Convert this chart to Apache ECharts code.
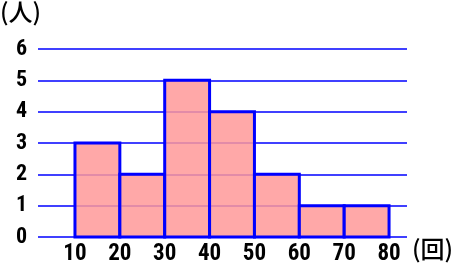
<!DOCTYPE html>
<html><head><meta charset="utf-8">
<script src="https://cdn.jsdelivr.net/npm/echarts@6/dist/echarts.min.js"></script>
<style>html,body{margin:0;padding:0;background:#fff}#c{width:456px;height:266px}</style>
</head><body><div id="c"></div>
<script>
const binStarts = [10, 20, 30, 40, 50, 60, 70];
const binEnds = [20, 30, 40, 50, 60, 70, 80];
const counts = [3, 2, 5, 4, 2, 1, 1];
const xTickLabels = [10, 20, 30, 40, 50, 60, 70, 80];
const yTickLabels = [0, 1, 2, 3, 4, 5, 6];
const yUnit = '(人)';
const xUnit = '(回)';

const FONT = '"Liberation Sans Narrow", "Roboto Condensed", "DejaVu Sans Condensed", sans-serif';
const data = binStarts.map((s, i) => [s, binEnds[i], counts[i]]);
const chart = echarts.init(document.getElementById('c'));
chart.setOption({
  animation: false,
  grid: {left: 38, right: 49, top: 49, bottom: 29},
  xAxis: {
    type: 'value', min: 1.76, max: 84,
    axisLine: {show: false}, axisTick: {show: false}, splitLine: {show: false},
    axisLabel: {
      customValues: xTickLabels, color: '#000', fontSize: 23, fontWeight: 'bold',
      fontFamily: FONT, margin: 6
    }
  },
  yAxis: {
    type: 'value', min: 0, max: 6, interval: 1,
    axisLine: {show: false}, axisTick: {show: false},
    splitLine: {lineStyle: {color: '#0000ff', width: 1.5}},
    axisLabel: {
      color: '#000', fontSize: 22, fontWeight: 'bold', fontFamily: FONT, margin: 11,
      formatter: v => yTickLabels.includes(v) ? String(v) : ''
    }
  },
  series: [{
    type: 'custom',
    data: data,
    encode: {x: [0, 1], y: 2},
    renderItem: function (params, api) {
      const p0 = api.coord([api.value(0), 0]);
      const p1 = api.coord([api.value(1), api.value(2)]);
      return {
        type: 'rect',
        shape: {x: p0[0], y: p1[1], width: p1[0] - p0[0], height: p0[1] - p1[1]},
        style: {fill: 'rgba(255,153,153,0.85)', stroke: '#0000ff', lineWidth: 3}
      };
    }
  }],
  graphic: [
    {type: 'text', left: 0, top: 0, style: {text: yUnit, fontSize: 24, fontFamily: 'Noto Sans CJK JP', fontWeight: 500, fill: '#000'}},
    {type: 'text', left: 412, top: 237, style: {text: xUnit, fontSize: 24, fontFamily: 'Noto Sans CJK JP', fontWeight: 500, fill: '#000'}}
  ]
});
</script></body></html>
